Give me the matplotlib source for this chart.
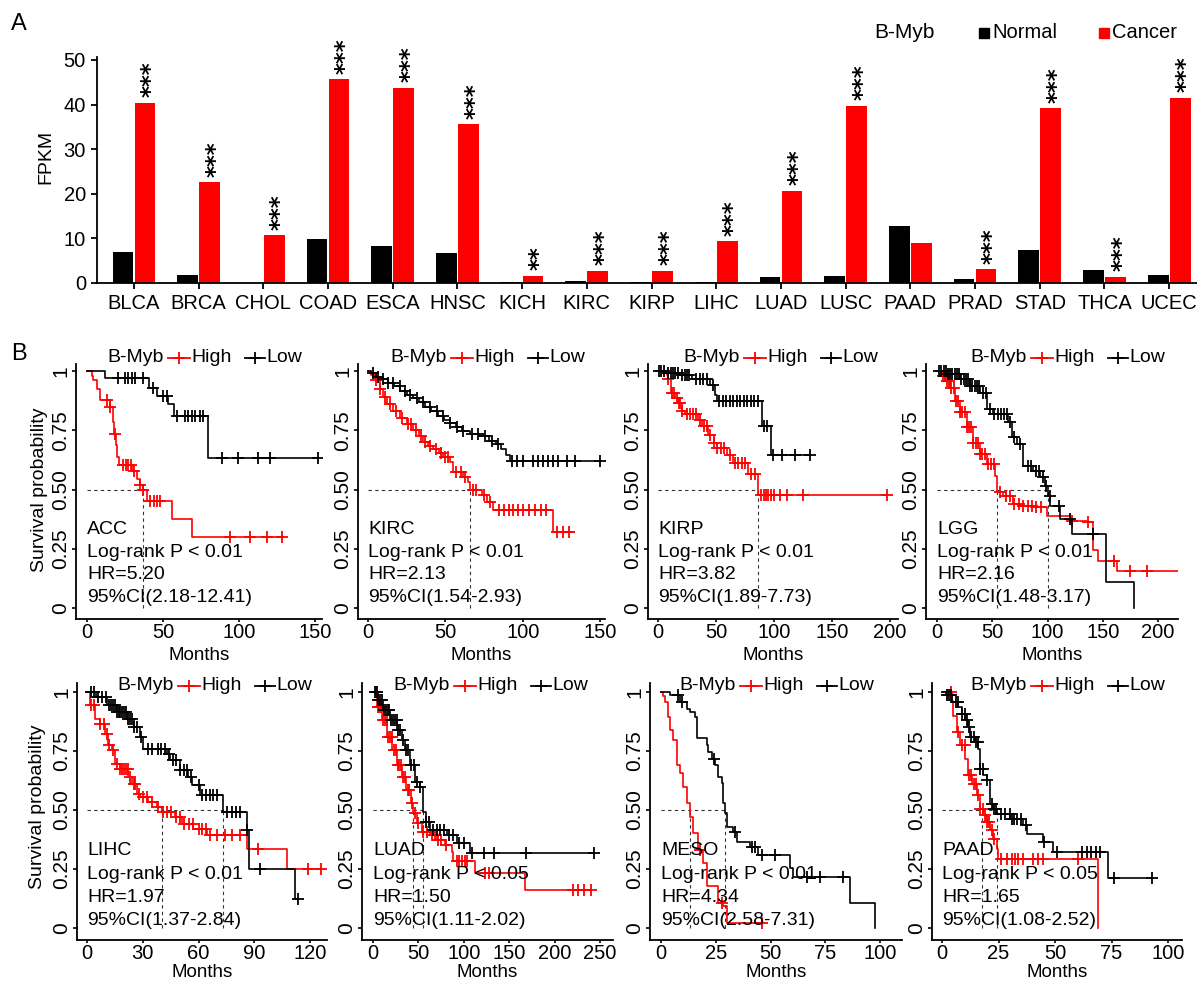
import numpy as np
import matplotlib
matplotlib.use("Agg")
import matplotlib.pyplot as plt
from matplotlib.patches import Rectangle
from matplotlib.lines import Line2D

plt.rcParams['font.family'] = ['Liberation Sans', 'DejaVu Sans']

W, H = 1197, 983

# ---------------- panel A data ----------------
cancers = ["BLCA", "BRCA", "CHOL", "COAD", "ESCA", "HNSC", "KICH", "KIRC", "KIRP",
           "LIHC", "LUAD", "LUSC", "PAAD", "PRAD", "STAD", "THCA", "UCEC"]
normal_fpkm = [7.0, 1.8, 0.05, 9.9, 8.2, 6.7, 0.3, 0.4, 0.2, 0.2, 1.4, 1.6, 12.7, 0.9, 7.5, 3.0, 1.7]
cancer_fpkm = [40.4, 22.6, 10.7, 45.7, 43.8, 35.6, 1.6, 2.8, 2.8, 9.4, 20.7, 39.7, 8.9, 3.1, 39.2, 1.4, 41.5]
signif = ["***", "***", "***", "***", "***", "***", "**", "***", "***",
          "***", "***", "***", "", "***", "***", "***", "***"]

# ---------------- panel B data (Kaplan-Meier steps, censor times, medians) ----------------
acc_high_t = [0, 3, 4.2, 6.4, 8.6, 15.2, 17.4, 18, 19.1, 19.6, 21.3, 29.4, 33.1, 34.9, 36.6, 39.3, 55.7, 68.9, 129]
acc_high_s = [1, 0.98, 0.96, 0.925, 0.876, 0.848, 0.785, 0.735, 0.686, 0.637, 0.605, 0.58, 0.545, 0.517, 0.496, 0.45, 0.377, 0.30, 0.30]
acc_high_c = [13, 15.2, 18.5, 23.9, 25.7, 27.2, 28.7, 31.2, 34.9, 36.6, 41.6, 43.9, 46.1, 48.2, 94.2, 107.5, 118.4, 128.3]
acc_low_t = [0, 12, 40.6, 45.9, 53.6, 57.4, 79.3, 152]
acc_low_s = [1, 0.97, 0.93, 0.895, 0.86, 0.81, 0.634, 0.634]
acc_low_c = [20.6, 25, 27.2, 29.4, 31.6, 37, 43.7, 50.2, 52.5, 59, 64.5, 66.7, 68.9, 71.1, 74.3, 76.5,
             88.6, 99.6, 112.8, 120.4, 152]
acc_medians = [36.6]
acc_stats = ["ACC", "Log-rank P < 0.01", "HR=5.20", "95%CI(2.18-12.41)"]

kirc_high_t = [0, 2, 4.4, 7.7, 10, 12, 16, 20.7, 25, 29.4, 33, 35.8, 39, 42.3, 46, 48.7, 53, 55, 61.6,
               64.9, 66, 73.5, 76.7, 81, 119.8, 133]
kirc_high_s = [1, 0.985, 0.96, 0.925, 0.89, 0.862, 0.83, 0.80, 0.775, 0.75, 0.725, 0.70, 0.685, 0.672,
               0.655, 0.637, 0.616, 0.574, 0.553, 0.53, 0.496, 0.475, 0.447, 0.412, 0.32, 0.32]
kirc_high_c = [5, 8, 11, 14, 18, 22, 26, 28, 31, 34, 37, 40, 44, 47, 50, 52, 57, 60, 63, 68, 70, 75, 79,
               85, 88, 91, 94, 97, 100, 104, 108, 112, 115, 122, 126, 130]
kirc_low_t = [0, 2, 5, 9, 13, 17, 21, 25, 29, 33, 37, 41, 45, 49, 53, 57, 61, 66, 72, 78, 83, 86, 89, 92, 150]
kirc_low_s = [1, 0.99, 0.975, 0.965, 0.95, 0.935, 0.915, 0.9, 0.885, 0.87, 0.85, 0.83, 0.81, 0.795, 0.78,
              0.765, 0.745, 0.735, 0.725, 0.705, 0.69, 0.67, 0.645, 0.62, 0.62]
kirc_low_c = [3.4, 6.7, 9.9, 13.1, 16.4, 20.7, 23.9, 27.1, 31.5, 35.8, 40.1, 44.4, 48.7, 53, 57.3, 61.6,
              67, 71.3, 75.6, 80, 84.2, 92.9, 96.1, 100.4, 106.9, 110.1, 113.3, 116.6, 119.8, 123,
              128.4, 133.8, 150]
kirc_medians = [66]
kirc_stats = ["KIRC", "Log-rank P < 0.01", "HR=2.13", "95%CI(1.54-2.93)"]

kirp_high_t = [0, 7.5, 9, 11.6, 14.5, 17.4, 20.3, 23.3, 34.9, 37.8, 43.5, 47.9, 50.6, 59.2, 65, 78, 86.5, 197]
kirp_high_s = [1, 0.985, 0.965, 0.908, 0.887, 0.865, 0.83, 0.817, 0.794, 0.766, 0.73, 0.695, 0.674,
               0.645, 0.61, 0.567, 0.475, 0.475]
kirp_high_c = [9, 12, 14, 16, 18, 19, 21, 25, 28, 30, 33, 36, 40, 42, 45, 48, 51, 54, 57, 62, 66, 69, 72,
               75, 80, 84, 89, 91, 93, 95, 97, 100, 105, 111, 125, 197]
kirp_low_t = [0, 7.5, 19, 29, 44.8, 49.1, 50.6, 89.4, 97.1, 131]
kirp_low_s = [1, 0.993, 0.985, 0.965, 0.943, 0.90, 0.872, 0.769, 0.645, 0.645]
kirp_low_c = [1, 3, 5, 9, 11, 13, 15, 17, 21, 23, 25, 27, 33, 36, 39, 42, 47, 53, 56, 59, 62, 65, 68, 71,
              74, 77, 80, 83, 86, 91, 94, 99.4, 106.6, 118, 131]
kirp_medians = [86.5]
kirp_stats = ["KIRP", "Log-rank P < 0.01", "HR=3.82", "95%CI(1.89-7.73)"]

lgg_high_t = [0, 4.4, 7.4, 11.9, 16.4, 20.8, 26.9, 32.9, 38.9, 45, 52.5, 54.6, 60, 69, 75, 90, 99.3,
              120.4, 137, 141.5, 146, 162.6, 218]
lgg_high_s = [1, 0.979, 0.958, 0.93, 0.874, 0.825, 0.762, 0.698, 0.649, 0.607, 0.558, 0.488, 0.474,
              0.439, 0.432, 0.425, 0.39, 0.369, 0.362, 0.243, 0.20, 0.158, 0.158]
lgg_high_c = [5, 7, 9, 11, 13, 15, 17, 19, 21, 23, 25, 27, 29, 31, 33, 35, 37, 39, 41, 43, 46, 49, 52,
              57, 62, 66, 70, 74, 78, 82, 86, 90, 94, 122, 137, 160, 175, 190]
lgg_low_t = [0, 8.7, 20.8, 29.9, 38.9, 45, 51, 64.6, 67.6, 72.1, 78.2, 87.2, 93.2, 97.8, 100.8, 102.3,
             111.3, 121.9, 152.9, 178.4]
lgg_low_s = [1, 0.986, 0.965, 0.937, 0.909, 0.839, 0.818, 0.783, 0.72, 0.691, 0.60, 0.579, 0.551,
             0.516, 0.474, 0.432, 0.376, 0.313, 0.109, 0.0]
lgg_low_c = [2, 4, 6, 8, 10, 12, 14, 16, 18, 20, 22, 24, 26, 28, 30, 32, 34, 36, 38, 42, 44, 48, 52, 55,
             58, 61, 63, 66, 70, 75, 82, 85, 90, 92, 96, 99, 102, 110, 120, 141]
lgg_medians = [54.6, 100.8]
lgg_stats = ["LGG", "Log-rank P < 0.01", "HR=2.16", "95%CI(1.48-3.17)"]

lihc_high_t = [0, 1.4, 4.1, 6.8, 9.5, 11.5, 13.3, 15, 17.8, 22.2, 24, 26.7, 28.5, 33, 37.5, 40.2, 47.4,
               51, 57.2, 64.4, 85.8, 107.4, 126]
lihc_high_s = [1, 0.943, 0.887, 0.866, 0.823, 0.774, 0.753, 0.696, 0.675, 0.64, 0.612, 0.569, 0.555,
               0.534, 0.513, 0.492, 0.47, 0.442, 0.421, 0.393, 0.336, 0.251, 0.251]
lihc_high_c = [2, 4, 7, 9, 11, 12, 14, 16, 18, 19, 20, 21, 22, 23, 25, 26, 28, 30, 32, 35, 38, 41, 43,
               45, 48, 50, 52, 55, 57, 60, 62, 64, 66, 70, 74, 78, 82, 92, 119, 126]
lihc_low_t = [0, 5, 10.6, 16, 21.3, 25, 28.5, 30.3, 42.8, 44.6, 50, 54.5, 56.3, 60.8, 73.3, 85.8, 87.3,
              111.8, 113.6]
lihc_low_s = [1, 0.979, 0.943, 0.915, 0.887, 0.852, 0.809, 0.76, 0.739, 0.71, 0.668, 0.64, 0.605,
              0.562, 0.492, 0.414, 0.251, 0.124, 0.124]
lihc_low_c = [2, 4, 6, 8, 10, 12, 13, 14, 15, 16, 17, 18, 19, 20, 21, 22, 23, 24, 25, 27, 29, 33, 35,
              38, 40, 42, 44, 46, 48, 50, 52, 54, 56, 60, 62, 64, 66, 68, 70, 75, 78, 80, 82, 86, 93, 113.6]
lihc_medians = [40.2, 73.3]
lihc_stats = ["LIHC", "Log-rank P < 0.01", "HR=1.97", "95%CI(1.37-2.84)"]

luad_high_t = [0, 4.8, 10.3, 15.9, 21.4, 26.9, 32.4, 36.1, 41.6, 44.4, 48.1, 53.6, 62.8, 70.2, 79.3,
               86.6, 88.5, 112.4, 167.4, 240]
luad_high_s = [1, 0.937, 0.88, 0.81, 0.754, 0.69, 0.641, 0.585, 0.528, 0.486, 0.444, 0.408, 0.394,
               0.373, 0.352, 0.324, 0.282, 0.232, 0.162, 0.162]
luad_high_c = [3, 5, 7, 9, 11, 13, 15, 17, 19, 21, 23, 25, 27, 29, 31, 33, 35, 38, 40, 43, 46, 50, 55,
               60, 65, 68, 72, 75, 80, 92, 95, 98, 101, 104, 123, 128, 220, 226, 232, 240]
luad_low_t = [0, 5.9, 11.4, 18.8, 26.1, 31.6, 35.3, 40.8, 46.3, 51.8, 55.4, 58, 62.8, 81.1, 92.2, 106.9, 243]
luad_low_s = [1, 0.965, 0.923, 0.88, 0.838, 0.796, 0.754, 0.69, 0.62, 0.599, 0.49, 0.45, 0.415, 0.394,
              0.359, 0.317, 0.317]
luad_low_c = [2, 4, 6, 8, 10, 12, 14, 16, 18, 20, 22, 24, 26, 28, 30, 33, 36, 38, 42, 45, 48, 52, 58,
              62, 66, 70, 74, 78, 84, 88, 95, 100, 109, 122, 133, 168, 243]
luad_medians = [44.4, 55.4]
luad_stats = ["LUAD", "Log-rank P < 0.05", "HR=1.50", "95%CI(1.11-2.02)"]

meso_high_t = [0, 1.0, 1.8, 3.3, 4.1, 5.6, 7.2, 8.7, 10.2, 11.7, 13.2, 14.8, 17.1, 19.3, 20.8, 25.8,
               28.5, 30, 46]
meso_high_s = [1, 0.985, 0.958, 0.894, 0.838, 0.796, 0.69, 0.655, 0.599, 0.528, 0.472, 0.401, 0.331,
               0.275, 0.176, 0.106, 0.092, 0.021, 0.021]
meso_high_c = [17.8, 27.7, 46]
meso_low_t = [0, 4.1, 8.7, 11.7, 13.2, 15.5, 16.3, 20.8, 21.6, 23.1, 24.7, 26.2, 27.7, 28.5, 29.2, 30,
              33, 34.5, 40.6, 44.4, 58.9, 60.4, 86.3, 97.7]
meso_low_s = [1, 0.986, 0.958, 0.93, 0.915, 0.894, 0.803, 0.775, 0.746, 0.718, 0.69, 0.641, 0.613,
              0.528, 0.486, 0.43, 0.408, 0.366, 0.345, 0.31, 0.254, 0.218, 0.106, 0.0]
meso_low_c = [7.9, 9.4, 24.0, 33.8, 41.4, 43, 46, 52.1, 66.5, 72.6, 83.3]
meso_medians = [13.2, 29.2]
meso_stats = ["MESO", "Log-rank P < 0.01", "HR=4.34", "95%CI(2.58-7.31)"]

paad_high_t = [0, 4.3, 5, 6.5, 8, 10.2, 11.7, 13.1, 15.3, 16.8, 18.3, 19.8, 21.2, 22.7, 24.2, 24.9, 69.1]
paad_high_s = [1, 0.96, 0.90, 0.83, 0.774, 0.718, 0.647, 0.612, 0.562, 0.506, 0.477, 0.449, 0.414,
               0.379, 0.336, 0.294, 0.0]
paad_high_c = [4, 7, 9, 10, 12, 13, 14, 15, 16, 17, 18, 19, 20, 21, 22, 23, 26, 28.6, 31, 32.3, 33.8,
               36, 40.4, 42.6, 44.8, 60.3]
paad_low_t = [0, 1.9, 4.3, 7.2, 8.7, 10.2, 11.7, 12.4, 14.6, 16.1, 16.8, 18.3, 19.8, 21.2, 22.7, 24.2,
              30.1, 36, 37.5, 44.8, 49.2, 73.6, 92.8]
paad_low_s = [1, 0.986, 0.958, 0.936, 0.908, 0.88, 0.852, 0.809, 0.788, 0.76, 0.675, 0.647, 0.626,
              0.527, 0.506, 0.484, 0.463, 0.435, 0.40, 0.364, 0.322, 0.212, 0.212]
paad_low_c = [2, 3, 4, 6, 7, 9, 10, 11, 12, 13, 14, 15, 16, 17, 18, 20, 22, 23, 24, 26, 28, 30, 31, 32,
              33, 35, 37, 45, 51, 62, 64, 66, 68, 70, 76, 92.8]
paad_medians = [17.5, 24.2]
paad_stats = ["PAAD", "Log-rank P < 0.05", "HR=1.65", "95%CI(1.08-2.52)"]


fig = plt.figure(figsize=(W / 100, H / 100), dpi=100)


def px_axes(left, top, right, bottom):
    return fig.add_axes([left / W, 1 - bottom / H, (right - left) / W, (bottom - top) / H])


def fig_xy(x, y):
    return x / W, 1 - y / H


# ================= panel A =================
axA = px_axes(97, 57, 1197, 283)
xpos = np.arange(len(cancers))
axA.bar(xpos - 0.17, normal_fpkm, width=0.32, color='black')
axA.bar(xpos + 0.17, cancer_fpkm, width=0.32, color='#ff0000')
for xi, v, s in zip(xpos, cancer_fpkm, signif):
    if s:
        axA.annotate(s, (xi + 0.17, v), xytext=(4.5, 4), textcoords='offset points',
                     rotation=90, ha='center', va='bottom', fontsize=16.5,
                     family='DejaVu Sans', fontweight='bold')
axA.set_xlim(-0.57, 16.43)
axA.set_ylim(0, 50.67)
axA.set_xticks(xpos, cancers)
axA.set_yticks([0, 10, 20, 30, 40, 50])
for sp in ['top', 'right']:
    axA.spines[sp].set_visible(False)
for sp in ['left', 'bottom']:
    axA.spines[sp].set_linewidth(1.3)
axA.tick_params(axis='both', direction='out', length=4, width=1.3, labelsize=14.5, pad=4)

fig.text(*fig_xy(46, 157), 'FPKM', rotation=90, ha='center', va='center', fontsize=14)
fig.text(*fig_xy(19, 24), 'A', ha='center', va='center', fontsize=17)
fig.text(*fig_xy(19, 354), 'B', ha='center', va='center', fontsize=17)

# legend A
fig.text(*fig_xy(904, 33), 'B-Myb', ha='center', va='center', fontsize=15)
fig.add_artist(Rectangle(fig_xy(979, 38), 9.5 / W, 10 / H, transform=fig.transFigure,
                         color='black'))
fig.text(*fig_xy(992, 33), 'Normal', ha='left', va='center', fontsize=14.5)
fig.add_artist(Rectangle(fig_xy(1099, 38), 9.5 / W, 10 / H, transform=fig.transFigure,
                         color='#ff0000'))
fig.text(*fig_xy(1112, 33), 'Cancer', ha='left', va='center', fontsize=14.5)


# ================= panel B =================
def step_at(t, s, c):
    idx = np.searchsorted(t, c, side='right') - 1
    return np.asarray(s)[idx]


rows = {
    'top': dict(top=364, bottom=619, y1=371, y0=608, legend_y=358, label_top=647,
                text_y=[0.33, 0.235, 0.14, 0.045]),
    'bot': dict(top=683, bottom=940, y1=692, y0=928, legend_y=686, label_top=964,
                text_y=[0.33, 0.228, 0.13, 0.03]),
}

panels = [
    # row, left px, right px, x0 px, px per month, ticks, legend start px, data
    ('top', 76, 322, 87, 1.52, [0, 50, 100, 150], 107,
     (acc_high_t, acc_high_s, acc_high_c, acc_low_t, acc_low_s, acc_low_c, acc_medians, acc_stats)),
    ('top', 358, 605, 368, 1.547, [0, 50, 100, 150], 390,
     (kirc_high_t, kirc_high_s, kirc_high_c, kirc_low_t, kirc_low_s, kirc_low_c, kirc_medians, kirc_stats)),
    ('top', 648, 898, 658, 1.16, [0, 50, 100, 150, 200], 683,
     (kirp_high_t, kirp_high_s, kirp_high_c, kirp_low_t, kirp_low_s, kirp_low_c, kirp_medians, kirp_stats)),
    ('top', 926, 1178, 937, 1.105, [0, 50, 100, 150, 200], 970,
     (lgg_high_t, lgg_high_s, lgg_high_c, lgg_low_t, lgg_low_s, lgg_low_c, lgg_medians, lgg_stats)),
    ('bot', 77, 327, 87, 1.86, [0, 30, 60, 90, 120], 117,
     (lihc_high_t, lihc_high_s, lihc_high_c, lihc_low_t, lihc_low_s, lihc_low_c, lihc_medians, lihc_stats)),
    ('bot', 362, 613, 373, 0.908, [0, 50, 100, 150, 200, 250], 393,
     (luad_high_t, luad_high_s, luad_high_c, luad_low_t, luad_low_s, luad_low_c, luad_medians, luad_stats)),
    ('bot', 650, 902, 661, 2.19, [0, 25, 50, 75, 100], 679,
     (meso_high_t, meso_high_s, meso_high_c, meso_low_t, meso_low_s, meso_low_c, meso_medians, meso_stats)),
    ('bot', 932, 1182, 942, 2.26, [0, 25, 50, 75, 100], 970,
     (paad_high_t, paad_high_s, paad_high_c, paad_low_t, paad_low_s, paad_low_c, paad_medians, paad_stats)),
]

for row, left, right, x0, ppu, ticks, leg_x, data in panels:
    g = rows[row]
    ht, hs, hc, lt, ls, lc, meds, stats = data
    ax = px_axes(left, g['top'], right, g['bottom'])
    span = g['y0'] - g['y1']
    ax.set_ylim((g['y0'] - g['bottom']) / span, (g['y0'] - g['top']) / span)
    ax.set_xlim((left - x0) / ppu, (right - x0) / ppu)

    # median guide lines
    ax.plot([0, max(meds)], [0.5, 0.5], color='#333333', lw=0.8, dashes=(3, 3))
    for m in meds:
        ax.plot([m, m], [0, 0.5], color='#333333', lw=0.8, dashes=(3, 3))

    for t, s, c, col in [(ht, hs, hc, '#ff0000'), (lt, ls, lc, 'black')]:
        ax.step(t, s, where='post', color=col, lw=1.2)
        ax.plot(c, step_at(t, s, c), ls='none', marker='+', ms=8, mew=1.3, color=col)

    for txt, ty in zip(stats, g['text_y']):
        ax.text(0, ty, txt, ha='left', va='center', fontsize=14)

    for sp in ['top', 'right']:
        ax.spines[sp].set_visible(False)
    for sp in ['left', 'bottom']:
        ax.spines[sp].set_linewidth(1.3)
    ax.set_xticks(ticks)
    ax.set_yticks([0, 0.25, 0.5, 0.75, 1], ['0', '0.25', '0.50', '0.75', '1'])
    ax.tick_params(axis='x', direction='out', length=2.5, width=1.2, labelsize=14.5, pad=0.5)
    ax.tick_params(axis='y', direction='out', length=3, width=1.2, labelsize=15, pad=1)
    for lbl in ax.get_yticklabels():
        lbl.set_rotation(90)
        lbl.set_va('center')
    ax.set_xlabel('Months', fontsize=13.5)
    ax.xaxis.set_label_coords(0.5, (g['bottom'] - g['label_top']) / (g['bottom'] - g['top']))

    # legend above the panel
    ly = g['legend_y']
    fig.text(*fig_xy(leg_x, ly), 'B-Myb', ha='left', va='center', fontsize=14)
    for a, b, col, name in [(61, 83, '#ff0000', 'High'), (138, 158, 'black', 'Low')]:
        xa, ya = fig_xy(leg_x + a, ly)
        xb, _ = fig_xy(leg_x + b, ly)
        fig.add_artist(Line2D([xa, xb], [ya, ya], transform=fig.transFigure, color=col, lw=1.3))
        fig.add_artist(Line2D([(xa + xb) / 2], [ya], transform=fig.transFigure, color=col,
                              marker='+', ms=8, mew=1.3))
        fig.text(*fig_xy(leg_x + b + 1, ly), name, ha='left', va='center', fontsize=14)

fig.text(*fig_xy(40, 490), 'Survival probability', rotation=90, ha='center', va='center', fontsize=14)
fig.text(*fig_xy(38, 807), 'Survival probability', rotation=90, ha='center', va='center', fontsize=14)

fig.savefig('out.png', dpi=100)
